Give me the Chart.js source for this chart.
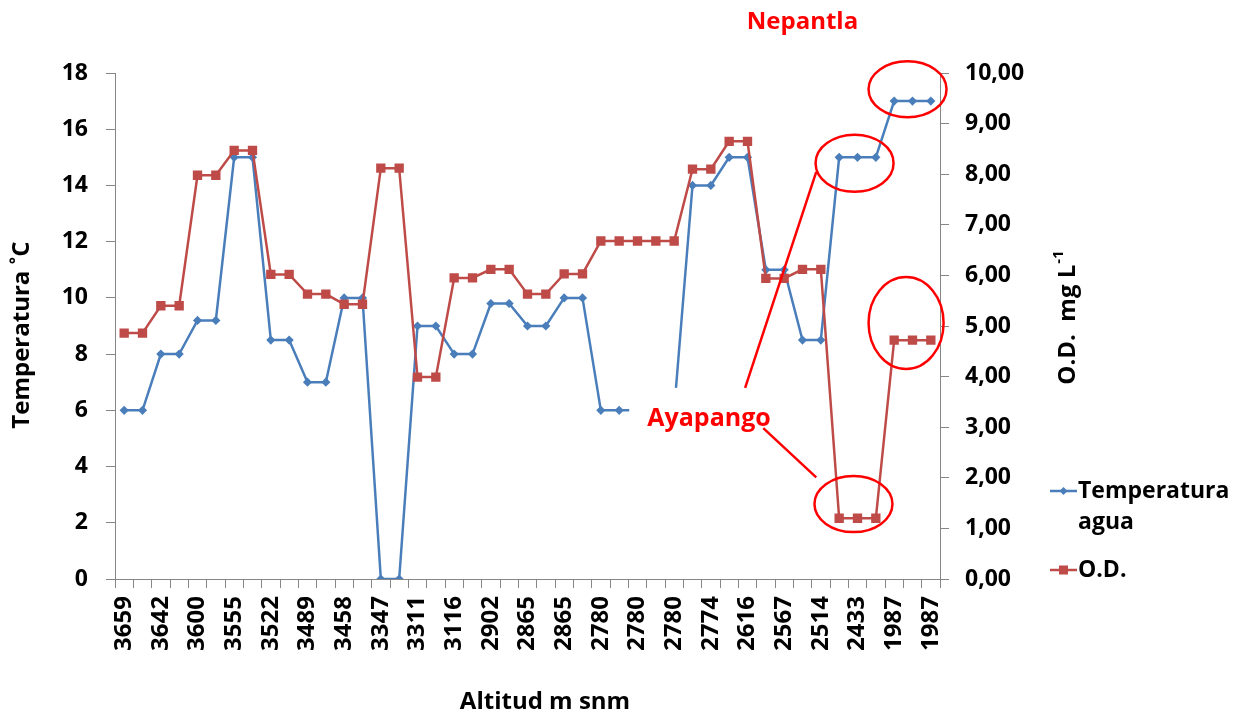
<!DOCTYPE html>
<html>
<head>
<meta charset="utf-8">
<script src="https://cdn.jsdelivr.net/npm/chart.js@4.4.1/dist/chart.umd.min.js"></script>
<style>
  html, body { margin: 0; padding: 0; background: #fff; }
  #wrap { width: 1239px; height: 715px; }
</style>
</head>
<body>
<div id="wrap"><canvas id="myChart" width="1239" height="715"></canvas></div>
<script>
// altitud (m snm) de cada punto de muestreo, se muestra una etiqueta de cada dos
const altitudes = ["3659","3659","3642","3642","3600","3600","3555","3555","3522","3522",
  "3489","3489","3458","3458","3347","3347","3311","3311","3116","3116",
  "2902","2902","2865","2865","2865","2865","2780","2780","2780","2780",
  "2780","2774","2774","2616","2616","2567","2567","2514","2514","2433",
  "2433","2433","1987","1987","1987"];

const temperatura = [6, 6, 8, 8, 9.2, 9.2, 15, 15, 8.5, 8.5,
  7, 7, 10, 10, 0, 0, 9, 9, 8, 8,
  9.8, 9.8, 9, 9, 10, 10, 6, 6, 6, 6,
  6, 14, 14, 15, 15, 11, 11, 8.5, 8.5, 15,
  15, 15, 17, 17, 17];

const od = [4.86, 4.86, 5.40, 5.40, 7.98, 7.98, 8.47, 8.47, 6.02, 6.02,
  5.63, 5.63, 5.43, 5.43, 8.12, 8.12, 3.99, 3.99, 5.95, 5.95,
  6.12, 6.12, 5.63, 5.63, 6.03, 6.03, 6.68, 6.68, 6.68, 6.68,
  6.68, 8.10, 8.10, 8.65, 8.65, 5.94, 5.94, 6.12, 6.12, 1.20,
  1.20, 1.20, 4.72, 4.72, 4.72];

const FAMILY = "'Open Sans', sans-serif";
const BLUE = '#4A7EBB';
const RED = '#BE4B48';
const AXIS = '#868686';

function boldFont(size) {
  return 'bold ' + size + 'px ' + FAMILY;
}

// titulos de ejes, leyenda y anotaciones en rojo
const extras = {
  id: 'extras',
  afterDraw(chart) {
    const ctx = chart.ctx;
    const xs = chart.scales.x;
    const yl = chart.scales.y;
    const yr = chart.scales.y1;
    const area = chart.chartArea;
    ctx.save();

    // caja blanca del texto Ayapango (tapa parte de la linea azul)
    const bx1 = xs.getPixelForValue(27.55), bx2 = xs.getPixelForValue(36.4);
    const by1 = yl.getPixelForValue(6.8), by2 = yl.getPixelForValue(4.8);
    ctx.fillStyle = '#fff';
    ctx.fillRect(bx1, by1, bx2 - bx1, by2 - by1);

    ctx.fillStyle = '#FF0000';
    ctx.font = boldFont(25);
    ctx.textAlign = 'center';
    ctx.textBaseline = 'middle';
    ctx.fillText('Ayapango', xs.getPixelForValue(31.9), yl.getPixelForValue(5.7));
    ctx.font = boldFont(24);
    ctx.fillText('Nepantla', xs.getPixelForValue(37), area.top - 51);

    // elipses
    ctx.strokeStyle = '#FF0000';
    ctx.lineWidth = 2.5;
    const ellipses = [
      [42.73, yl, 17.42, 39, 28],
      [39.84, yl, 14.79, 39, 28.5],
      [39.78, yr, 1.48, 39, 28],
      [42.65, yr, 5.06, 37.5, 46]
    ];
    ellipses.forEach(e => {
      ctx.beginPath();
      ctx.ellipse(xs.getPixelForValue(e[0]), e[1].getPixelForValue(e[2]), e[3], e[4], 0, 0, Math.PI * 2);
      ctx.stroke();
    });

    // lineas desde Ayapango
    ctx.beginPath();
    ctx.moveTo(xs.getPixelForValue(33.87), by1);
    ctx.lineTo(xs.getPixelForValue(37.75), yl.getPixelForValue(14.48));
    ctx.moveTo(xs.getPixelForValue(34.86), yl.getPixelForValue(5.37));
    ctx.lineTo(xs.getPixelForValue(37.75), yr.getPixelForValue(2.01));
    ctx.stroke();

    // titulos de ejes
    ctx.fillStyle = '#000';
    ctx.font = boldFont(24);
    ctx.textAlign = 'center';
    ctx.textBaseline = 'middle';
    ctx.fillText('Altitud m snm', 545, 702);

    ctx.save();
    ctx.translate(22, 335);
    ctx.rotate(-Math.PI / 2);
    ctx.fillText('Temperatura \u02DAC', 0, 0);
    ctx.restore();

    ctx.save();
    ctx.translate(1068, 318);
    ctx.rotate(-Math.PI / 2);
    const main = 'O.D.  mg L';
    ctx.font = boldFont(24);
    const w1 = ctx.measureText(main).width;
    ctx.font = boldFont(15);
    const w2 = ctx.measureText('-1').width;
    const start = -(w1 + w2) / 2;
    ctx.textAlign = 'left';
    ctx.font = boldFont(24);
    ctx.fillText(main, start, 0);
    ctx.font = boldFont(15);
    ctx.fillText('-1', start + w1 + 1, -9);
    ctx.restore();

    // leyenda
    const lx = 1050, lw = 27;
    ctx.lineWidth = 2.5;
    ctx.strokeStyle = BLUE;
    ctx.fillStyle = BLUE;
    ctx.beginPath();
    ctx.moveTo(lx, 491); ctx.lineTo(lx + lw, 491); ctx.stroke();
    ctx.beginPath();
    ctx.moveTo(lx + lw / 2, 487); ctx.lineTo(lx + lw / 2 + 4, 491);
    ctx.lineTo(lx + lw / 2, 495); ctx.lineTo(lx + lw / 2 - 4, 491); ctx.closePath(); ctx.fill();

    ctx.strokeStyle = RED;
    ctx.fillStyle = RED;
    ctx.beginPath();
    ctx.moveTo(lx, 570); ctx.lineTo(lx + lw, 570); ctx.stroke();
    ctx.fillRect(lx + lw / 2 - 4.5, 565.5, 9, 9);

    ctx.fillStyle = '#000';
    ctx.font = boldFont(23);
    ctx.textAlign = 'left';
    ctx.fillText('Temperatura', lx + lw + 1, 491);
    ctx.fillText('agua', lx + lw + 1, 522);
    ctx.fillText('O.D.', lx + lw + 1, 570);

    ctx.restore();
  }
};

const dataChart = {
  labels: altitudes,
  datasets: [
    {
      label: 'O.D.',
      data: od,
      yAxisID: 'y1',
      borderColor: RED,
      backgroundColor: RED,
      borderWidth: 2.5,
      pointStyle: 'rect',
      pointRadius: 6.6,
      pointBorderWidth: 0,
      tension: 0,
      order: 0
    }, {
      label: 'Temperatura agua',
      data: temperatura,
      yAxisID: 'y',
      borderColor: BLUE,
      backgroundColor: BLUE,
      borderWidth: 2.5,
      pointStyle: 'rectRot',
      pointRadius: 4.6,
      pointBorderWidth: 0,
      tension: 0,
      order: 1
    }
  ]
};

const tickFont = { family: FAMILY, size: 24, weight: 'bold' };

const config = {
  type: 'line',
  data: dataChart,
  options: {
    responsive: false,
    animation: false,
    layout: { padding: { top: 73, left: 0, right: 0, bottom: 0 } },
    plugins: {
      legend: { display: false },
      tooltip: { enabled: false }
    },
    scales: {
      x: {
        type: 'category',
        offset: true,
        grid: { offset: true, drawOnChartArea: false, tickLength: 9, color: AXIS },
        border: { color: AXIS },
        ticks: {
          autoSkip: false,
          maxRotation: 90,
          minRotation: 90,
          padding: 8,
          color: '#000',
          font: tickFont,
          callback: function (v, i) { return i % 2 === 0 ? this.getLabelForValue(v) : ''; }
        },
        afterFit: s => { s.height = 136; }
      },
      y: {
        position: 'left',
        min: 0,
        max: 18,
        grid: { drawOnChartArea: false, tickLength: 9, color: AXIS },
        border: { color: AXIS },
        ticks: { stepSize: 2, padding: 18, color: '#000', font: { family: FAMILY, size: 23, weight: 'bold' } },
        afterFit: s => { s.width = 115; }
      },
      y1: {
        position: 'right',
        min: 0,
        max: 10,
        grid: { drawOnChartArea: false, tickLength: 9, color: AXIS },
        border: { color: AXIS },
        ticks: {
          stepSize: 1,
          padding: 16,
          color: '#000',
          font: { family: FAMILY, size: 23, weight: 'bold' },
          callback: v => v.toFixed(2).replace('.', ',')
        },
        afterFit: s => { s.width = 299; }
      }
    }
  },
  plugins: [extras]
};

const myChart = new Chart(document.getElementById('myChart'), config);
</script>
</body>
</html>
